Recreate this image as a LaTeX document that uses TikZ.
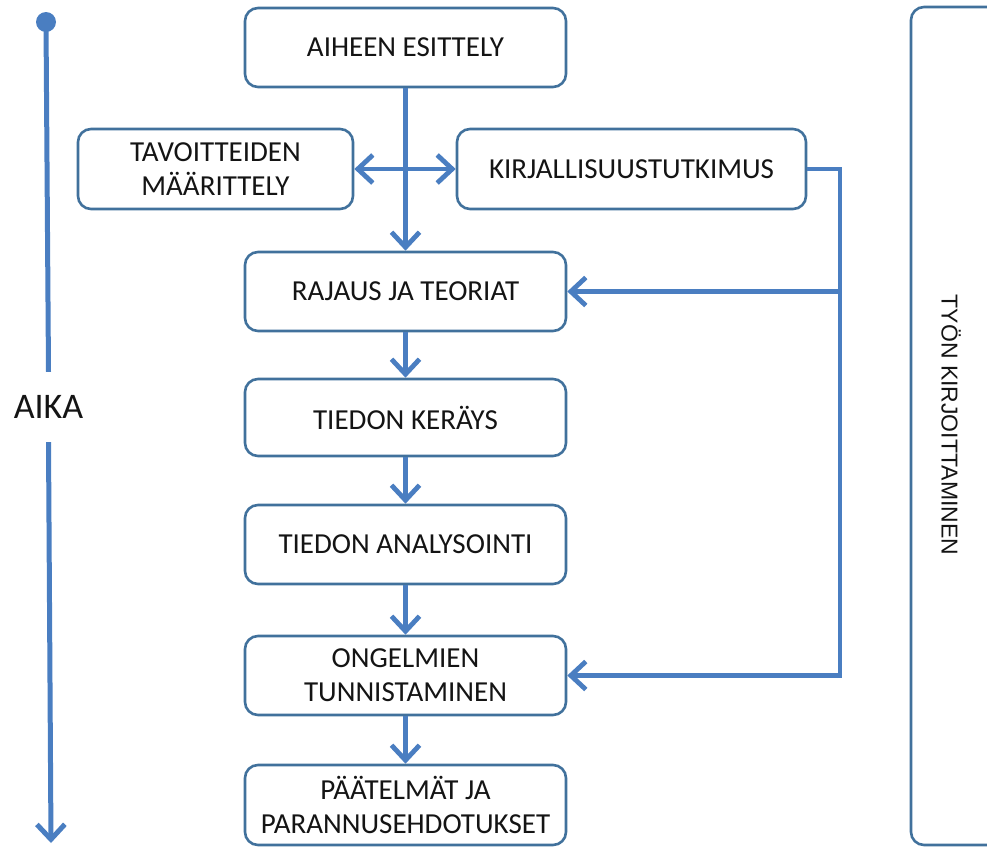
\documentclass[tikz,border=0pt]{standalone}
\usepackage{fontspec}
\setmainfont{Carlito}
\newfontfamily\arialfont{Liberation Sans}
\usetikzlibrary{arrows.meta}
\definecolor{flowblue}{HTML}{4A7EC1}
\definecolor{boxblue}{HTML}{41719C}
\definecolor{inktext}{HTML}{141414}
\begin{document}
\begin{tikzpicture}[x=1pt,y=-1pt,
  stage/.style={draw=boxblue, line width=2.6pt, rounded corners=13pt, fill=white,
    align=center, font=\fontsize{29}{34}\selectfont, text=inktext,
    minimum width=321pt, minimum height=79pt, inner sep=0pt},
  barb/.tip={Straight Barb[length=15pt,width=28pt]},
  flow/.style={draw=flowblue, line width=4.8pt, -barb},
  link/.style={draw=flowblue, line width=4.8pt}]
\clip (0,0) rectangle (987,846);

% process stages
\node[stage] (aihe) at (405.5,47.5) {AIHEEN ESITTELY};
\node[stage, minimum width=275pt, minimum height=80pt] (tavo) at (215.5,169) {TAVOITTEIDEN\\MÄÄRITTELY};
\node[stage, minimum width=349pt, minimum height=80pt] (kirj) at (631.5,169) {KIRJALLISUUSTUTKIMUS};
\node[stage] (raja) at (405.5,291.5) {RAJAUS JA TEORIAT};
\node[stage, minimum height=77pt] (keray) at (405.5,417.5) {TIEDON KERÄYS};
\node[stage] (anal) at (405.5,544.5) {TIEDON ANALYSOINTI};
\node[stage] (ongel) at (405.5,675.5) {ONGELMIEN\\TUNNISTAMINEN};
\node[stage, minimum height=80pt] (paat) at (405.5,805) {PÄÄTELMÄT JA\\PARANNUSEHDOTUKSET};

% writing runs alongside the whole process
\node[draw=boxblue, line width=2.6pt, rounded corners=13pt, minimum width=90pt,
  minimum height=838pt] (kirjoitus) at (956,426) {};
\node[rotate=-90, font=\arialfont\fontsize{23}{27}\selectfont, text=inktext]
  (kirjoitusteksti) at (951,425) {TYÖN KIRJOITTAMINEN};

% time axis
\coordinate (alku) at (46,22);
\coordinate (loppu) at (51,843);
\node[font=\fontsize{36}{40}\selectfont, text=inktext, minimum height=70pt, inner sep=0pt]
  (aika) at (48.5,407) {AIKA};
\fill[flowblue] (alku) circle (10pt);
\draw[link, line width=5pt] (alku) -- (aika.north);
\draw[flow, line width=5pt] (aika.south) -- (loppu);

% main flow
\draw[flow] (aihe.south) -- (raja.north);
\draw[flow, barb-barb] (tavo.east) -- (kirj.west);
\draw[flow] (raja.south) -- (keray.north);
\draw[flow] (keray.south) -- (anal.north);
\draw[flow] (anal.south) -- (ongel.north);
\draw[flow] (ongel.south) -- (paat.north);

% literature feeds back into later stages
\coordinate (kulma) at (840,169);
\coordinate (haara) at (840,291.5);
\draw[flow, line join=miter] (kirj.east) -- (kulma) |- (ongel.east);
\draw[flow] (haara) -- (raja.east);
\end{tikzpicture}
\end{document}
